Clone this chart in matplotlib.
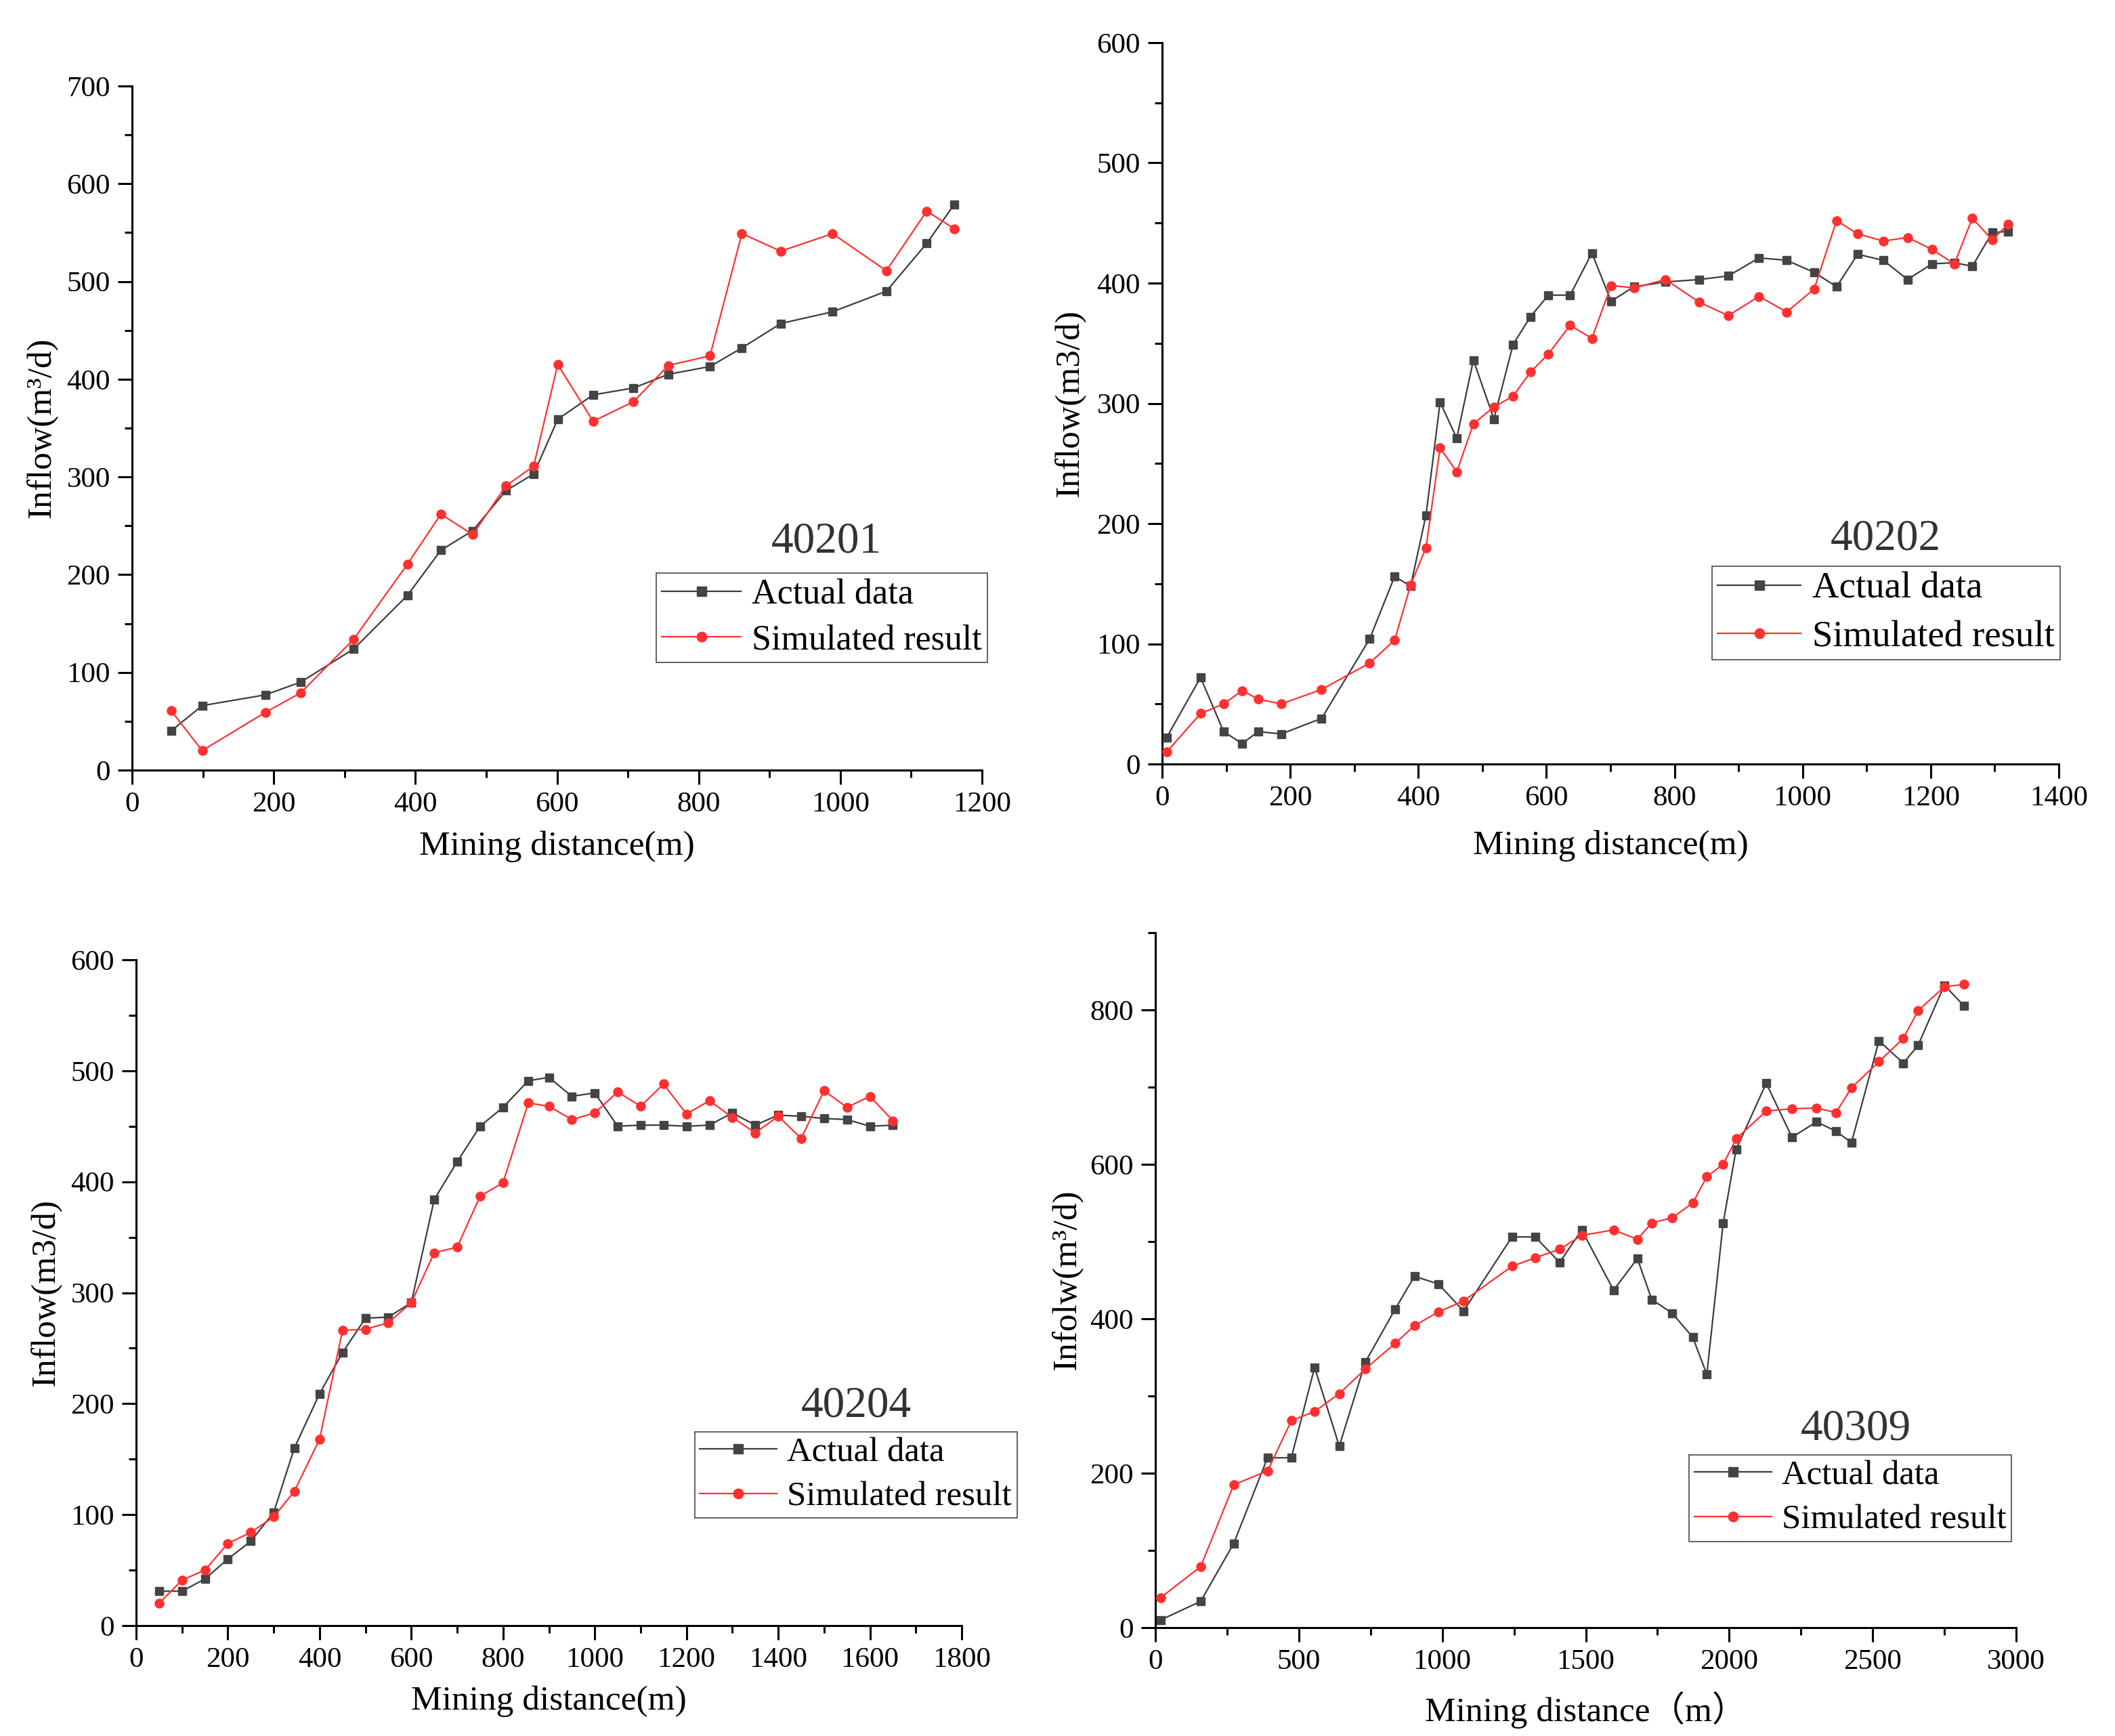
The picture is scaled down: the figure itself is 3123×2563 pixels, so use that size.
import matplotlib
matplotlib.use("Agg")
import matplotlib.pyplot as plt
from matplotlib.ticker import MultipleLocator

plt.rcParams['font.family'] = ['Liberation Serif', 'Noto Sans CJK SC', 'DejaVu Sans']

# ---------------- data ----------------
x_40201 = [55, 99, 188, 238, 313, 389, 436, 481, 528, 567, 601, 651, 708, 757, 816, 861, 916, 989, 1065, 1122, 1161]
actual_40201 = [40, 66, 77, 90, 124, 179, 225, 245, 286, 303, 359, 384, 391, 405, 413, 432, 457, 469, 490, 539, 579]
sim_40201 = [61, 20, 59, 79, 134, 211, 262, 241, 291, 311, 415, 357, 377, 414, 424, 549, 531, 549, 511, 572, 554]

x_40202 = [7, 60, 96, 125, 150, 186, 249, 324, 363, 388, 412, 434, 460, 486, 518, 548, 575, 603, 637, 671,
           701, 737, 786, 839, 884, 932, 975, 1018, 1053, 1086, 1126, 1164, 1202, 1237, 1265, 1296, 1321]
actual_40202 = [22, 72, 27, 17, 27, 25, 38, 104, 156, 148, 207, 301, 271, 336, 287, 349, 372, 390, 390, 425,
                385, 397, 401, 403, 406, 421, 419, 409, 397, 424, 419, 403, 416, 417, 414, 442, 443]
sim_40202 = [10, 42, 50, 61, 54, 50, 62, 84, 103, 149, 180, 263, 243, 283, 297, 306, 326, 341, 365, 354,
             398, 396, 403, 384, 373, 389, 376, 395, 452, 441, 435, 438, 428, 416, 454, 436, 449]

x_40204 = [50, 100, 150, 200, 250, 300, 345, 400, 450, 500, 550, 600, 650, 700, 750, 800, 855, 900, 950, 1000,
           1050, 1100, 1150, 1200, 1250, 1300, 1350, 1400, 1450, 1500, 1550, 1600, 1650]
actual_40204 = [31, 31, 42, 60, 76, 102, 160, 209, 246, 277, 278, 291, 384, 418, 450, 467, 491, 494, 477, 480,
                450, 451, 451, 450, 451, 462, 451, 460, 459, 457, 456, 450, 451]
sim_40204 = [20, 41, 50, 74, 84, 98, 121, 168, 266, 267, 273, 291, 336, 341, 387, 399, 471, 468, 456, 462,
             481, 468, 488, 461, 473, 458, 444, 459, 439, 482, 467, 477, 455]

x_40309 = [19, 158, 273, 391, 474, 555, 641, 732, 835, 903, 987, 1074, 1243, 1324, 1409, 1486, 1597, 1680, 1730, 1802,
           1873, 1922, 1979, 2024, 2129, 2219, 2304, 2372, 2426, 2522, 2607, 2658, 2750, 2819]
actual_40309 = [10, 34, 109, 220, 220, 337, 235, 344, 412, 455, 445, 410, 506, 506, 473, 515, 437, 478, 425, 407,
                376, 328, 524, 619, 705, 635, 655, 643, 628, 760, 731, 754, 832, 805]
sim_40309 = [39, 79, 185, 203, 268, 280, 303, 335, 368, 391, 409, 423, 468, 479, 490, 508, 515, 503, 524, 531,
             550, 584, 600, 633, 669, 672, 673, 667, 699, 733, 763, 799, 830, 833]

panel_names = ["40201", "40202", "40204", "40309"]
series_labels = ["Actual data", "Simulated result"]
x_labels = ["Mining distance(m)", "Mining distance(m)", "Mining distance(m)", "Mining distance\uff08m\uff09"]
y_labels = ["Inflow(m\u00b3/d)", "Inflow(m3/d)", "Inflow(m3/d)", "Infolw(m\u00b3/d)"]

# ---------------- layout ----------------
W, H = 3123, 2563
fig = plt.figure(figsize=(W / 100, H / 100), dpi=100)

def rect(l, r, t, b):
    return [l / W, 1 - b / H, (r - l) / W, (b - t) / H]

panels = [
    dict(x=x_40201, a=actual_40201, s=sim_40201, pos=rect(195, 1450, 127, 1137),
         xlim=(0, 1200), xmaj=200, xmin=100, ylim=(0, 700), ymaj=100, ymin=50,
         title_xy=(0.817, 0.334), leg_anchor=(1.006, 0.288), leg_fs=37.5,
         ylab_x=-0.106, xlab_y=-0.112),
    dict(x=x_40202, a=actual_40202, s=sim_40202, pos=rect(1716, 3040, 63, 1128),
         xlim=(0, 1400), xmaj=200, xmin=100, ylim=(0, 600), ymaj=100, ymin=50,
         title_xy=(0.807, 0.312), leg_anchor=(1.0015, 0.274), leg_fs=39.5,
         ylab_x=-0.103, xlab_y=-0.113),
    dict(x=x_40204, a=actual_40204, s=sim_40204, pos=rect(201, 1420, 1417, 2400),
         xlim=(0, 1800), xmaj=200, xmin=100, ylim=(0, 600), ymaj=100, ymin=50,
         title_xy=(0.872, 0.330), leg_anchor=(1.067, 0.291), leg_fs=36.5,
         ylab_x=-0.109, xlab_y=-0.114),
    dict(x=x_40309, a=actual_40309, s=sim_40309, pos=rect(1706, 2977, 1377, 2403),
         xlim=(0, 3000), xmaj=500, xmin=250, ylim=(0, 900), ymaj=200, ymin=100,
         title_xy=(0.814, 0.286), leg_anchor=(0.9945, 0.2485), leg_fs=36.5,
         ylab_x=-0.102, xlab_y=-0.118),
]

black = '#3c3c3c'
red = '#ff3030'

for i, p in enumerate(panels):
    ax = fig.add_axes(p['pos'])
    ax.plot(p['x'], p['a'], color=black, lw=1.6, marker='s', ms=9,
            mfc='#444444', mec='#444444', label=series_labels[0], zorder=3)
    ax.plot(p['x'], p['s'], color=red, lw=1.6, marker='o', ms=9.5,
            mfc=red, mec=red, label=series_labels[1], zorder=4)

    ax.set_xlim(*p['xlim'])
    ax.set_ylim(*p['ylim'])
    ax.xaxis.set_major_locator(MultipleLocator(p['xmaj']))
    ax.xaxis.set_minor_locator(MultipleLocator(p['xmin']))
    ax.yaxis.set_major_locator(MultipleLocator(p['ymaj']))
    ax.yaxis.set_minor_locator(MultipleLocator(p['ymin']))

    for side in ['top', 'right']:
        ax.spines[side].set_visible(False)
    for side in ['left', 'bottom']:
        ax.spines[side].set_linewidth(2.2)
        ax.spines[side].set_color('black')
    ax.tick_params(which='major', direction='out', length=15, width=2.2,
                   labelsize=31, pad=8, colors='black')
    ax.tick_params(which='minor', direction='out', length=8, width=2.2)
    ax.tick_params(top=False, right=False)

    ax.text(0.5, p['xlab_y'], x_labels[i], transform=ax.transAxes,
            ha='center', va='center', fontsize=37)
    ax.text(p['ylab_x'], 0.5, y_labels[i], transform=ax.transAxes,
            ha='center', va='center', rotation=90, fontsize=37)

    ax.text(p['title_xy'][0], p['title_xy'][1], panel_names[i], transform=ax.transAxes,
            ha='center', va='center', fontsize=47, color='#333333')

    leg = ax.legend(loc='upper right', bbox_to_anchor=p['leg_anchor'], borderaxespad=0,
                    fontsize=p['leg_fs'], frameon=True, fancybox=False, framealpha=1,
                    edgecolor='#555555', borderpad=0.15, labelspacing=0.38,
                    handlelength=2.25, handletextpad=0.3, markerscale=1.1)
    leg.get_frame().set_linewidth(1.3)

fig.savefig("out.png", dpi=100)
